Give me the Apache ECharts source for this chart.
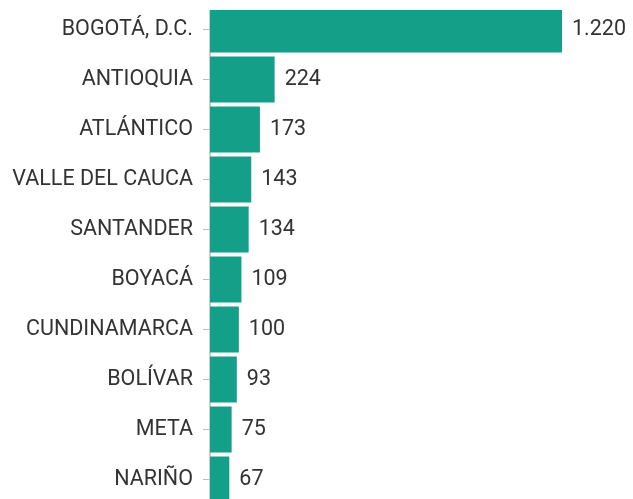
<!DOCTYPE html>
<html>
<head>
<meta charset="utf-8">
<style>
  html, body { margin: 0; padding: 0; background: #fff; }
  #chart { width: 633px; height: 499px; }
</style>
<script src="https://cdn.jsdelivr.net/npm/echarts@6/dist/echarts.min.js"></script>
</head>
<body>
<div id="chart"></div>
<script>
// Departments, top to bottom
const departments = [
  'BOGOTÁ, D.C.', 'ANTIOQUIA', 'ATLÁNTICO', 'VALLE DEL CAUCA', 'SANTANDER',
  'BOYACÁ', 'CUNDINAMARCA', 'BOLÍVAR', 'META', 'NARIÑO'
];
// Count per department
const counts = [1220, 224, 173, 143, 134, 109, 100, 93, 75, 67];

// Spanish-style thousands separator: 1220 -> 1.220
function fmt(v) {
  return String(v).replace(/\B(?=(\d{3})+(?!\d))/g, '.');
}

const chart = echarts.init(document.getElementById('chart'), null, { renderer: 'canvas' });
chart.setOption({
  animation: false,
  grid: {
    left: 210, top: 4.5, width: 352, height: 500,
    containLabel: false, outerBoundsMode: 'none'
  },
  xAxis: {
    type: 'value',
    min: 0,
    max: 1220,
    show: false
  },
  yAxis: {
    type: 'category',
    data: departments,
    inverse: true,
    axisLine: { show: true, lineStyle: { color: '#bdbdbd', width: 1.5 } },
    axisTick: { show: true, length: 7, alignWithLabel: true, lineStyle: { color: '#bdbdbd' } },
    axisLabel: {
      color: '#333',
      fontFamily: 'Roboto',
      fontSize: 21.5,
      margin: 17
    }
  },
  series: [{
    type: 'bar',
    data: counts,
    barCategoryGap: '8%',
    itemStyle: { color: '#14a088' },
    label: {
      show: true,
      position: 'right',
      distance: 10,
      color: '#333',
      fontFamily: 'Roboto',
      fontSize: 21.5,
      formatter: p => fmt(p.value)
    }
  }],
  // plot area starts 10px below the top edge
  graphic: [{
    type: 'rect',
    z: 100,
    shape: { x: 0, y: 0, width: 633, height: 10 },
    style: { fill: '#fff' },
    silent: true
  }]
});
</script>
</body>
</html>
